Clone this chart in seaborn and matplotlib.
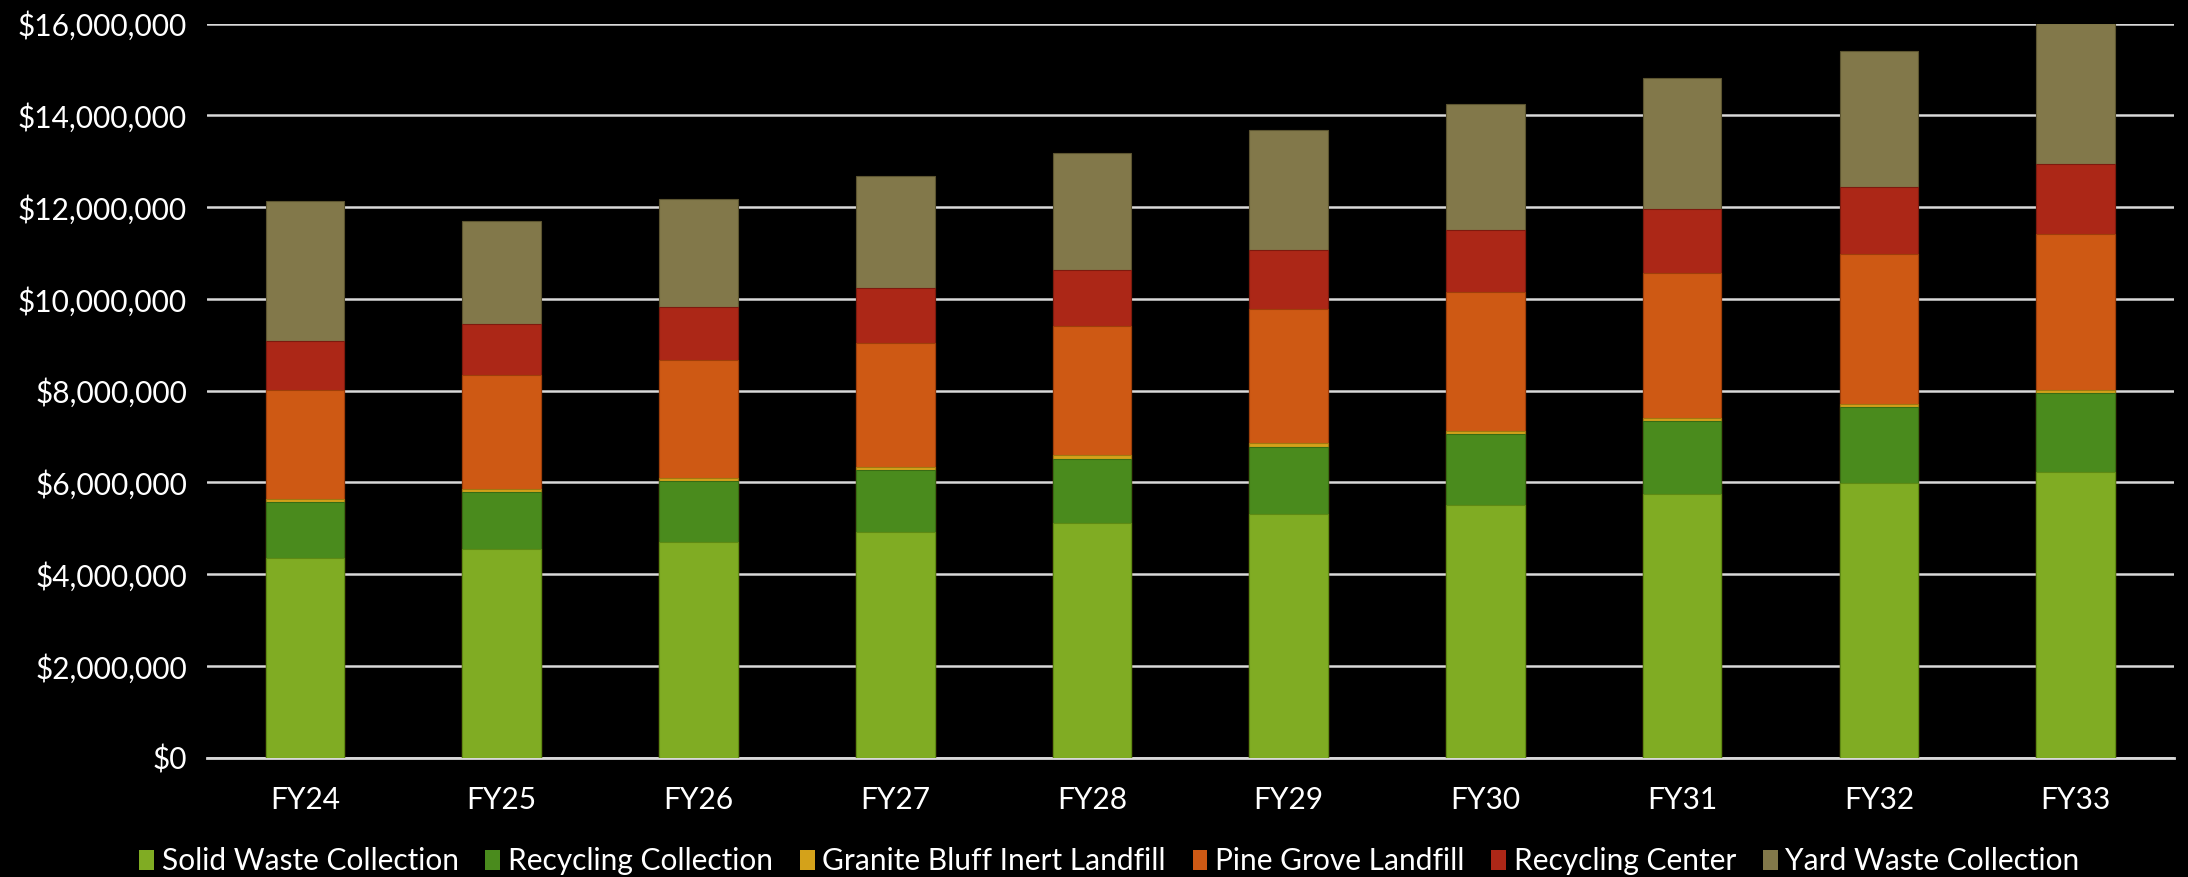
from matplotlib import pyplot as plt
from matplotlib.patches import Patch
from matplotlib.ticker import FuncFormatter
import seaborn as sns
import pandas as pd
import numpy as np

anos = ["FY24", "FY25", "FY26", "FY27", "FY28", "FY29", "FY30", "FY31", "FY32", "FY33"]

# valores em milhoes de dolares
solid_waste = [4.36, 4.54, 4.71, 4.92, 5.11, 5.31, 5.51, 5.74, 5.98, 6.22]
recycling_collection = [1.21, 1.26, 1.32, 1.35, 1.41, 1.47, 1.54, 1.60, 1.66, 1.72]
granite_bluff = [0.07, 0.06, 0.07, 0.07, 0.08, 0.08, 0.08, 0.07, 0.08, 0.08]
pine_grove = [2.38, 2.49, 2.58, 2.69, 2.80, 2.92, 3.03, 3.16, 3.27, 3.40]
recycling_center = [1.07, 1.10, 1.15, 1.20, 1.23, 1.29, 1.34, 1.39, 1.45, 1.52]
yard_waste = [3.04, 2.25, 2.34, 2.44, 2.55, 2.62, 2.74, 2.86, 2.96, 3.08]

series = {
    "Solid Waste Collection": solid_waste,
    "Recycling Collection": recycling_collection,
    "Granite Bluff Inert Landfill": granite_bluff,
    "Pine Grove Landfill": pine_grove,
    "Recycling Center": recycling_center,
    "Yard Waste Collection": yard_waste,
}
cores = ["#80AC23", "#4A8B1D", "#D4A21A", "#CE5914", "#AC2717", "#82784A"]
bordas = ["#5E8A14", "#386C14", "#A07810", "#9E3E0A", "#7E1A0E", "#5C5430"]

sns.set_style("dark")
plt.rcParams["font.family"] = ["Lato", "DejaVu Sans"]

figure, axis = plt.subplots(figsize=(21.88, 8.77), dpi=100)
figure.patch.set_facecolor("black")
axis.set_facecolor("black")
plt.subplots_adjust(left=0.0944, right=0.9936, top=0.973, bottom=0.136)

dados = pd.DataFrame(series, index=anos)
acumulado = dados.cumsum(axis=1) * 1e6
nomes = list(series.keys())

# desenha do topo para a base, cada camada por cima da anterior
for i in range(len(nomes) - 1, -1, -1):
    frame = pd.DataFrame({"ano": anos, "valor": acumulado[nomes[i]].values})
    sns.barplot(
        data=frame,
        x="ano",
        y="valor",
        color=cores[i],
        saturation=1,
        width=0.4,
        edgecolor=bordas[i],
        linewidth=0.8,
        ax=axis,
        zorder=3,
    )

axis.set_ylim(0, 16e6)
axis.set_xlim(-0.5, 9.5)
axis.set_yticks(np.arange(0, 16e6 + 1, 2e6))
axis.yaxis.set_major_formatter(FuncFormatter(lambda v, p: f"${v:,.0f}"))
axis.grid(axis="y", color="#D9D9D9", linewidth=1.8, zorder=0)
axis.grid(axis="x", visible=False)
axis.set_axisbelow(True)
for lado in ["top", "right", "left"]:
    axis.spines[lado].set_visible(False)
axis.spines["bottom"].set_color("#D9D9D9")
axis.spines["bottom"].set_linewidth(2)
axis.tick_params(axis="both", length=0, colors="white", labelsize=21.5)
axis.tick_params(axis="x", pad=20)
axis.tick_params(axis="y", pad=14)
axis.set_xlabel("")
axis.set_ylabel("")

handles = [Patch(facecolor=cores[i], edgecolor="none", label=nomes[i]) for i in range(len(nomes))]
legenda = figure.legend(
    handles=handles,
    loc="center",
    bbox_to_anchor=(0.507, 0.018),
    ncol=6,
    frameon=False,
    fontsize=21.5,
    handlelength=0.5,
    handleheight=0.65,
    handletextpad=0.25,
    columnspacing=0.9,
)
for texto in legenda.get_texts():
    texto.set_color("white")

plt.savefig("out.png", dpi=100, facecolor="black")
